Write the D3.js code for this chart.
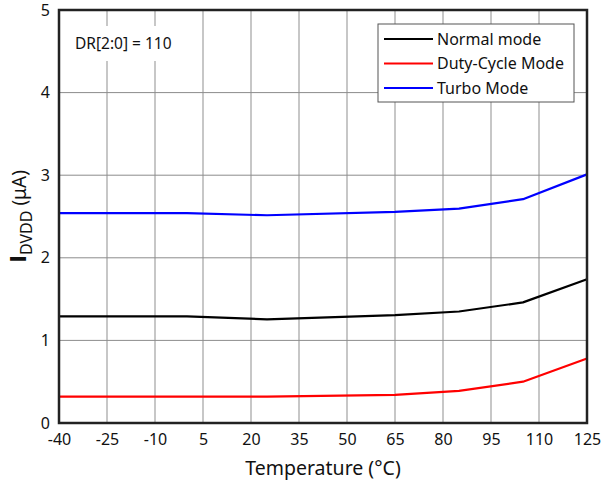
<!DOCTYPE html>
<html>
<head>
<meta charset="utf-8">
<script src="https://cdnjs.cloudflare.com/ajax/libs/d3/7.8.5/d3.min.js"></script>
<style>
  body { margin: 0; background: #fff; }
  svg text { font-family: "Noto Sans", "Open Sans", sans-serif; fill: #111; }
</style>
</head>
<body>
<div id="chart"></div>
<script>
// data
var temps = [-40, 0, 25, 65, 85, 105, 125];
var normalMode = [1.29, 1.29, 1.255, 1.305, 1.35, 1.46, 1.74];
var dutyCycleMode = [0.32, 0.32, 0.32, 0.34, 0.39, 0.50, 0.78];
var turboMode = [2.54, 2.54, 2.515, 2.555, 2.595, 2.71, 3.01];
var xTicks = [-40, -25, -10, 5, 20, 35, 50, 65, 80, 95, 110, 125];
var yTicks = [0, 1, 2, 3, 4, 5];
var seriesNames = ["Normal mode", "Duty-Cycle Mode", "Turbo Mode"];
var seriesColors = ["#000000", "#ff0000", "#0000ff"];

var W = 603, H = 485;
var margin = {top: 10, right: 16, bottom: 62, left: 59};
var width = W - margin.left - margin.right,
    height = H - margin.top - margin.bottom;

var x = d3.scaleLinear().domain([-40, 125]).range([0, width]);
var y = d3.scaleLinear().domain([0, 5]).range([height, 0]);

var svg = d3.select("#chart").append("svg")
  .attr("width", W)
  .attr("height", H);

var g = svg.append("g")
  .attr("transform", "translate(" + margin.left + "," + margin.top + ")");

// grid
g.append("g").selectAll("line")
  .data(xTicks.slice(1, -1))
  .enter().append("line")
  .attr("x1", d => x(d)).attr("x2", d => x(d))
  .attr("y1", 0).attr("y2", height)
  .attr("stroke", "#b4b4b4").attr("stroke-width", 1.5);

g.append("g").selectAll("line")
  .data(yTicks.slice(1, -1))
  .enter().append("line")
  .attr("x1", 0).attr("x2", width)
  .attr("y1", d => y(d)).attr("y2", d => y(d))
  .attr("stroke", "#8c8c8c").attr("stroke-width", 1);

// annotation with white background
var ann = g.append("g").attr("transform", "translate(" + (x(-40) + 5) + "," + 16 + ")");
ann.append("rect").attr("x", 0).attr("y", 0).attr("width", 118).attr("height", 35).attr("fill", "#fff");
ann.append("text").attr("x", 11).attr("y", 23).style("font-size", "15.5px").text("DR[2:0] = 110");

// lines
var line = d3.line()
  .x((d, i) => x(temps[i]))
  .y(d => y(d));

[normalMode, dutyCycleMode, turboMode].forEach(function(s, k){
  g.append("path")
    .datum(s)
    .attr("fill", "none")
    .attr("stroke", seriesColors[k])
    .attr("stroke-width", 2.2)
    .attr("stroke-linejoin", "round")
    .attr("d", line);
});

// frame
g.append("rect")
  .attr("x", 0).attr("y", 0)
  .attr("width", width).attr("height", height)
  .attr("fill", "none")
  .attr("stroke", "#222").attr("stroke-width", 2.5);

// axes labels
var xAxis = g.append("g")
  .attr("transform", "translate(0," + height + ")")
  .call(d3.axisBottom(x).tickValues(xTicks).tickFormat(d => String(d)).tickSize(0).tickPadding(11));
xAxis.select(".domain").remove();
xAxis.selectAll("text").style("font-size", "16px").attr("fill", "#111");

var yAxis = g.append("g")
  .call(d3.axisLeft(y).tickValues(yTicks).tickFormat(d => String(d)).tickSize(0).tickPadding(9));
yAxis.select(".domain").remove();
yAxis.selectAll("text").style("font-size", "16px").attr("fill", "#111");

// legend
var legend = g.append("g").attr("transform", "translate(" + (378 - margin.left) + "," + (24 - margin.top) + ")");
legend.append("rect")
  .attr("width", 196).attr("height", 78)
  .attr("fill", "#fff").attr("stroke", "#555").attr("stroke-width", 1);
seriesNames.forEach(function(n, k){
  var row = legend.append("g").attr("transform", "translate(0," + (15 + k * 24.5) + ")");
  row.append("line").attr("x1", 6).attr("x2", 55).attr("y1", 0).attr("y2", 0)
    .attr("stroke", seriesColors[k]).attr("stroke-width", 2.2);
  row.append("text").attr("x", 59).attr("y", 5.5).style("font-size", "16px").text(n);
});

// axis titles
svg.append("text")
  .attr("x", margin.left + width / 2)
  .attr("y", 475)
  .attr("text-anchor", "middle")
  .style("font-size", "19.5px")
  .text("Temperature (°C)");

var yt = svg.append("text")
  .attr("transform", "translate(26," + (margin.top + height / 2) + ") rotate(-90)")
  .attr("text-anchor", "middle");
yt.append("tspan").style("font-family", "'DejaVu Sans'").style("font-size", "21px").style("font-weight", "bold").text("I");
yt.append("tspan").attr("dy", 6).style("font-size", "16px").text("DVDD");
yt.append("tspan").attr("dy", -6).style("font-size", "19px").text(" (μA)");
</script>
</body>
</html>
